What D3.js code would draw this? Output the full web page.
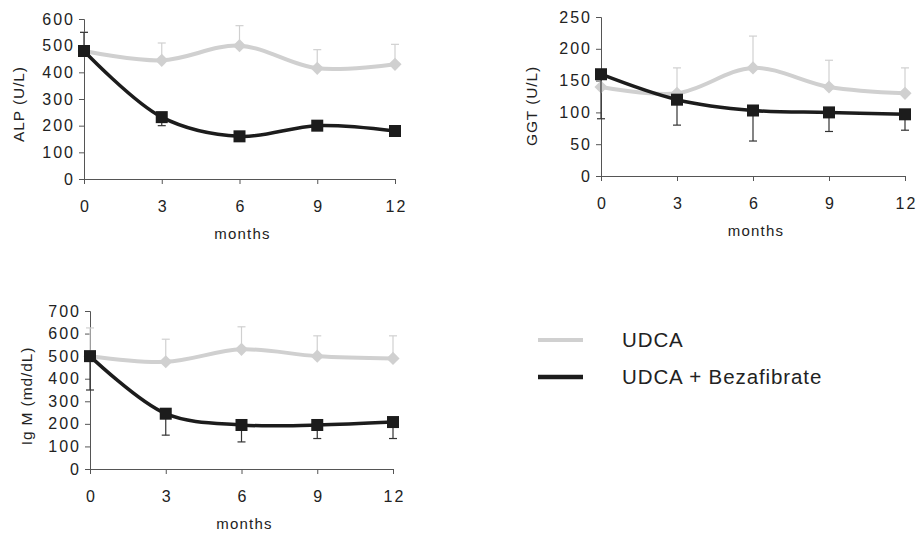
<!DOCTYPE html>
<html>
<head>
<meta charset="utf-8">
<script src="https://cdn.jsdelivr.net/npm/d3@7.9.0/dist/d3.min.js"></script>
<style>
  body { margin: 0; background: #fff; }
  svg text { font-family: "Liberation Sans", Arial, sans-serif; fill: #222; }
</style>
</head>
<body>
<svg id="chart" width="923" height="536"></svg>
<script>
// months on the x axis
const months = [0, 3, 6, 9, 12];

// ALP panel
const alpUdca = [480, 445, 500, 415, 430];
const alpUdcaErr = [550, 510, 575, 485, 505];
const alpBeza = [480, 232, 160, 200, 180];
const alpBezaErr = [550, 200, 160, 200, 180];

// GGT panel
const ggtUdca = [140, 130, 170, 140, 130];
const ggtUdcaErr = [140, 170, 220, 182, 170];
const ggtBeza = [160, 120, 103, 100, 97];
const ggtBezaErr = [90, 80, 55, 70, 72];

// Ig M panel
const igmUdca = [500, 475, 530, 500, 490];
const igmUdcaErr = [625, 575, 630, 590, 590];
const igmBeza = [500, 245, 195, 195, 208];
const igmBezaErr = [350, 150, 120, 135, 135];

const seriesNames = ['UDCA', 'UDCA + Bezafibrate'];

const grey = '#d0d0d0';
const black = '#1c1c1c';

const svg = d3.select('#chart');

function drawPanel(p) {
  const g = svg.append('g');
  const x = d3.scaleLinear().domain([0, 12]).range([p.left, p.right]);
  const y = d3.scaleLinear().domain([0, p.max]).range([p.bottom, p.top]);

  // axes
  const xAxis = d3.axisBottom(x).tickValues(months).tickSize(5).tickPadding(17);
  const yAxis = d3.axisLeft(y).ticks(p.max / p.step).tickSize(5).tickPadding(4);

  const gx = g.append('g').attr('transform', `translate(0,${p.bottom})`).call(xAxis);
  const gy = g.append('g').attr('transform', `translate(${p.left},0)`).call(yAxis);
  [gx, gy].forEach((a) => {
    a.select('.domain').attr('stroke', '#555');
    a.selectAll('.tick line').attr('stroke', '#555');
    a.selectAll('.tick text').attr('font-size', 16).attr('fill', '#222')
      .style('letter-spacing', '2px');
  });
  gx.selectAll('.tick text').attr('dx', '1px');

  g.append('text')
    .attr('x', (p.left + p.right) / 2 + 3)
    .attr('y', p.bottom + 60)
    .attr('text-anchor', 'middle')
    .attr('font-size', 15)
    .style('letter-spacing', '1.2px')
    .text('months');

  g.append('text')
    .attr('transform', `translate(${p.labelX},${p.labelY}) rotate(-90)`)
    .attr('text-anchor', 'middle')
    .attr('dy', '0.35em')
    .attr('font-size', 15.5)
    .style('letter-spacing', '0.9px')
    .text(p.label);

  const line = d3.line()
    .x((d, i) => x(months[i]))
    .y((d) => y(d))
    .curve(d3.curveCatmullRom.alpha(0.5));

  // error bars (drawn under the lines)
  const errBars = (vals, errs, color) => {
    vals.forEach((v, i) => {
      const cx = x(months[i]);
      g.append('line')
        .attr('x1', cx).attr('x2', cx)
        .attr('y1', y(v)).attr('y2', y(errs[i]))
        .attr('stroke', color).attr('stroke-width', 1.2);
      g.append('line')
        .attr('x1', cx - 4).attr('x2', cx + 4)
        .attr('y1', y(errs[i])).attr('y2', y(errs[i]))
        .attr('stroke', color).attr('stroke-width', 1.2);
    });
  };
  errBars(p.udca, p.udcaErr, grey);

  // UDCA series
  g.append('path')
    .datum(p.udca)
    .attr('d', line)
    .attr('fill', 'none')
    .attr('stroke', grey)
    .attr('stroke-width', 4);
  g.selectAll('.diamond')
    .data(p.udca)
    .join('path')
    .attr('transform', (d, i) => `translate(${x(months[i])},${y(d)})`)
    .attr('d', d3.symbol(d3.symbolDiamond2, 110)())
    .attr('fill', grey);

  errBars(p.beza, p.bezaErr, '#333');

  // UDCA + Bezafibrate series
  g.append('path')
    .datum(p.beza)
    .attr('d', line)
    .attr('fill', 'none')
    .attr('stroke', black)
    .attr('stroke-width', 3.5);
  g.selectAll('.square')
    .data(p.beza)
    .join('rect')
    .attr('x', (d, i) => x(months[i]) - 6)
    .attr('y', (d) => y(d) - 6)
    .attr('width', 12)
    .attr('height', 12)
    .attr('fill', black);
}

drawPanel({
  left: 84, right: 395, top: 19, bottom: 179, max: 600, step: 100,
  label: 'ALP (U/L)', labelX: 19, labelY: 104,
  udca: alpUdca, udcaErr: alpUdcaErr, beza: alpBeza, bezaErr: alpBezaErr
});

drawPanel({
  left: 601, right: 905, top: 17, bottom: 176, max: 250, step: 50,
  label: 'GGT (U/L)', labelX: 532, labelY: 106,
  udca: ggtUdca, udcaErr: ggtUdcaErr, beza: ggtBeza, bezaErr: ggtBezaErr
});

drawPanel({
  left: 90, right: 393, top: 311, bottom: 469, max: 700, step: 100,
  label: 'Ig M (md/dL)', labelX: 27, labelY: 396,
  udca: igmUdca, udcaErr: igmUdcaErr, beza: igmBeza, bezaErr: igmBezaErr
});

// legend
const legend = svg.append('g');
const legendRows = [
  { name: seriesNames[0], color: grey, width: 4, y: 340 },
  { name: seriesNames[1], color: black, width: 4.5, y: 377 }
];
legendRows.forEach((r) => {
  legend.append('line')
    .attr('x1', 538).attr('x2', 583)
    .attr('y1', r.y).attr('y2', r.y)
    .attr('stroke', r.color).attr('stroke-width', r.width);
  legend.append('text')
    .attr('x', 622).attr('y', r.y)
    .attr('dy', '0.35em')
    .attr('font-size', 20.5)
    .style('letter-spacing', '0.9px')
    .text(r.name);
});
</script>
</body>
</html>
